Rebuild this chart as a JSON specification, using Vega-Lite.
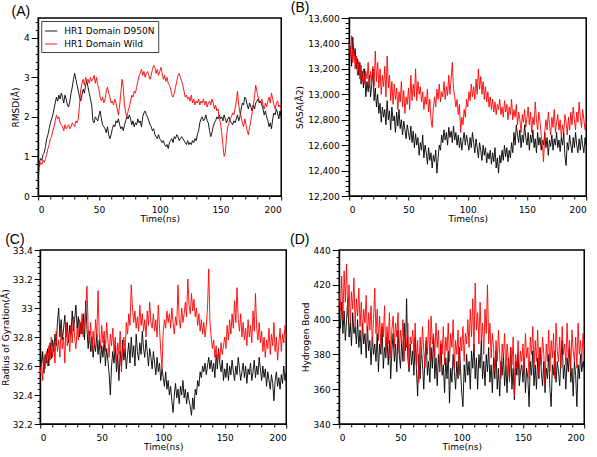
{
"$schema": "https://vega.github.io/schema/vega-lite/v6.json",
"background": "white",
"padding": {"left": 0, "top": 0, "right": 0, "bottom": 0},
"config": {
 "view": {"stroke": "#000", "strokeWidth": 1.5},
 "axis": {"labelFont": "DejaVu Sans", "labelFontSize": 9, "titleFont": "DejaVu Sans", "titleFontSize": 9, "titleFontWeight": "normal", "labelColor": "#000", "titleColor": "#000", "tickColor": "#000", "domainColor": "#000", "grid": false, "labelOverlap": false, "labelPadding": 2, "tickWidth": 1},
 "axisY": {"titlePadding": 3},
 "axisX": {"titlePadding": 0, "labelPadding": 5},
 "title": {"font": "Liberation Sans", "fontSize": 14, "fontWeight": "normal", "anchor": "start", "frame": "bounds", "offset": -1, "color": "#000"},
 "line": {"strokeWidth": 0.9, "clip": true}
},
"data": {"values": [
{"t":0,"am":0.45,"aw":0.7,"bm":13300,"bw":13400,"cm":32.75,"cw":32.55,"dm":402,"dw":415},
{"t":1,"am":0.85,"aw":0.75,"bm":13380,"bw":13300,"cm":32.6,"cw":32.62,"dm":395,"dw":405},
{"t":2,"am":0.95,"aw":0.85,"bm":13220,"bw":13460,"cm":32.7,"cw":32.5,"dm":410,"dw":425},
{"t":3,"am":0.9,"aw":0.8,"bm":13450,"bw":13250,"cm":32.55,"cw":32.66,"dm":392,"dw":400},
{"t":4,"am":1.05,"aw":0.9,"bm":13300,"bw":13350,"cm":32.68,"cw":32.58,"dm":405,"dw":428},
{"t":5,"am":1.1,"aw":0.85,"bm":13360,"bw":13200,"cm":32.62,"cw":32.7,"dm":388,"dw":410},
{"t":6,"am":1.25,"aw":0.95,"bm":13200,"bw":13300,"cm":32.72,"cw":32.6,"dm":400,"dw":432},
{"t":7,"am":1.45,"aw":1.05,"bm":13280,"bw":13150,"cm":32.6,"cw":32.74,"dm":412,"dw":402},
{"t":8,"am":1.55,"aw":1.2,"bm":13150,"bw":13260,"cm":32.76,"cw":32.64,"dm":390,"dw":420},
{"t":9,"am":1.7,"aw":1.3,"bm":13250,"bw":13120,"cm":32.65,"cw":32.8,"dm":398,"dw":398},
{"t":10,"am":1.85,"aw":1.45,"bm":13080,"bw":13230,"cm":32.78,"cw":32.66,"dm":385,"dw":416},
{"t":11,"am":1.95,"aw":1.5,"bm":13180,"bw":13100,"cm":32.7,"cw":32.76,"dm":404,"dw":406},
{"t":12,"am":2.05,"aw":1.65,"bm":13050,"bw":13200,"cm":32.82,"cw":32.62,"dm":392,"dw":424},
{"t":13,"am":2.2,"aw":1.75,"bm":13200,"bw":13080,"cm":32.74,"cw":32.84,"dm":396,"dw":396},
{"t":14,"am":2.35,"aw":1.9,"bm":12980,"bw":13180,"cm":32.9,"cw":32.7,"dm":386,"dw":412},
{"t":15,"am":2.5,"aw":2.05,"bm":13100,"bw":13120,"cm":33.0,"cw":32.78,"dm":400,"dw":402},
{"t":16,"am":2.4,"aw":1.95,"bm":13020,"bw":13250,"cm":32.8,"cw":32.66,"dm":384,"dw":418},
{"t":17,"am":2.55,"aw":2.0,"bm":13150,"bw":13050,"cm":32.92,"cw":32.86,"dm":394,"dw":396},
{"t":18,"am":2.45,"aw":1.85,"bm":12980,"bw":13180,"cm":32.78,"cw":32.72,"dm":380,"dw":410},
{"t":19,"am":2.6,"aw":1.8,"bm":13080,"bw":13100,"cm":32.86,"cw":32.8,"dm":398,"dw":392},
{"t":20,"am":2.5,"aw":1.75,"bm":13200,"bw":13220,"cm":32.95,"cw":32.62,"dm":386,"dw":406},
{"t":21,"am":2.35,"aw":1.65,"bm":12950,"bw":13060,"cm":32.8,"cw":32.9,"dm":392,"dw":398},
{"t":22,"am":2.55,"aw":1.8,"bm":13050,"bw":13340,"cm":32.9,"cw":32.74,"dm":378,"dw":414},
{"t":23,"am":2.45,"aw":1.7,"bm":12900,"bw":13100,"cm":32.76,"cw":32.82,"dm":396,"dw":388},
{"t":24,"am":2.3,"aw":1.75,"bm":13000,"bw":13250,"cm":32.88,"cw":32.7,"dm":382,"dw":404},
{"t":25,"am":2.25,"aw":1.8,"bm":12850,"bw":13050,"cm":32.82,"cw":32.88,"dm":388,"dw":394},
{"t":26,"am":2.4,"aw":1.7,"bm":12930,"bw":13200,"cm":32.98,"cw":32.76,"dm":374,"dw":408},
{"t":27,"am":2.6,"aw":1.75,"bm":12780,"bw":13000,"cm":32.84,"cw":32.94,"dm":390,"dw":386},
{"t":28,"am":2.75,"aw":1.85,"bm":12900,"bw":13150,"cm":32.92,"cw":32.8,"dm":380,"dw":400},
{"t":29,"am":2.95,"aw":1.8,"bm":12820,"bw":13060,"cm":33.02,"cw":32.72,"dm":386,"dw":418},
{"t":30,"am":3.1,"aw":1.75,"bm":12880,"bw":13220,"cm":32.86,"cw":32.86,"dm":376,"dw":392},
{"t":31,"am":2.95,"aw":1.9,"bm":12760,"bw":12980,"cm":32.94,"cw":32.78,"dm":392,"dw":406},
{"t":32,"am":2.8,"aw":1.85,"bm":12950,"bw":13300,"cm":32.8,"cw":32.92,"dm":370,"dw":388},
{"t":33,"am":2.65,"aw":1.95,"bm":12800,"bw":13050,"cm":32.9,"cw":32.82,"dm":386,"dw":402},
{"t":34,"am":2.5,"aw":2.3,"bm":12870,"bw":13150,"cm":32.82,"cw":32.96,"dm":380,"dw":384},
{"t":35,"am":2.4,"aw":2.7,"bm":12720,"bw":12950,"cm":32.96,"cw":32.8,"dm":396,"dw":398},
{"t":36,"am":2.55,"aw":2.85,"bm":12900,"bw":13100,"cm":32.78,"cw":32.9,"dm":372,"dw":390},
{"t":37,"am":2.7,"aw":2.95,"bm":12790,"bw":12920,"cm":33.05,"cw":33.0,"dm":384,"dw":408},
{"t":38,"am":2.6,"aw":2.8,"bm":12830,"bw":13080,"cm":32.85,"cw":33.15,"dm":378,"dw":380},
{"t":39,"am":2.8,"aw":3.0,"bm":12700,"bw":12960,"cm":32.72,"cw":32.86,"dm":390,"dw":396},
{"t":40,"am":2.9,"aw":2.9,"bm":12860,"bw":13050,"cm":32.84,"cw":32.76,"dm":374,"dw":386},
{"t":41,"am":2.75,"aw":2.95,"bm":12750,"bw":12880,"cm":32.7,"cw":32.9,"dm":388,"dw":404},
{"t":42,"am":2.6,"aw":2.85,"bm":12880,"bw":13020,"cm":32.8,"cw":32.7,"dm":366,"dw":378},
{"t":43,"am":2.45,"aw":3.0,"bm":12730,"bw":12940,"cm":32.66,"cw":32.84,"dm":382,"dw":394},
{"t":44,"am":2.3,"aw":2.9,"bm":12800,"bw":13100,"cm":32.76,"cw":32.74,"dm":392,"dw":402},
{"t":45,"am":1.9,"aw":2.95,"bm":12680,"bw":12900,"cm":32.7,"cw":32.92,"dm":376,"dw":384},
{"t":46,"am":1.85,"aw":3.05,"bm":12790,"bw":13030,"cm":32.82,"cw":32.8,"dm":386,"dw":398},
{"t":47,"am":2.0,"aw":2.85,"bm":12720,"bw":12850,"cm":32.68,"cw":33.12,"dm":370,"dw":390},
{"t":48,"am":1.95,"aw":3.0,"bm":12650,"bw":12980,"cm":32.78,"cw":32.82,"dm":394,"dw":404},
{"t":49,"am":1.9,"aw":2.8,"bm":12760,"bw":12920,"cm":32.62,"cw":32.72,"dm":380,"dw":380},
{"t":50,"am":2.05,"aw":2.7,"bm":12700,"bw":13050,"cm":32.74,"cw":32.88,"dm":372,"dw":394},
{"t":51,"am":2.15,"aw":2.5,"bm":12640,"bw":12880,"cm":32.66,"cw":32.76,"dm":388,"dw":386},
{"t":52,"am":1.95,"aw":2.4,"bm":12750,"bw":13150,"cm":32.78,"cw":32.84,"dm":376,"dw":400},
{"t":53,"am":1.8,"aw":2.5,"bm":12620,"bw":12950,"cm":32.6,"cw":32.7,"dm":398,"dw":376},
{"t":54,"am":1.75,"aw":2.35,"bm":12710,"bw":13080,"cm":32.72,"cw":32.9,"dm":382,"dw":392},
{"t":55,"am":1.7,"aw":2.45,"bm":12580,"bw":12980,"cm":32.64,"cw":32.78,"dm":412,"dw":384},
{"t":56,"am":1.6,"aw":2.65,"bm":12690,"bw":13200,"cm":32.55,"cw":32.66,"dm":378,"dw":398},
{"t":57,"am":1.75,"aw":2.75,"bm":12600,"bw":12950,"cm":32.4,"cw":32.82,"dm":370,"dw":372},
{"t":58,"am":1.55,"aw":2.6,"bm":12660,"bw":13100,"cm":32.6,"cw":32.74,"dm":386,"dw":390},
{"t":59,"am":1.45,"aw":2.5,"bm":12520,"bw":13000,"cm":32.7,"cw":32.86,"dm":374,"dw":386},
{"t":60,"am":1.55,"aw":2.35,"bm":12620,"bw":13060,"cm":32.62,"cw":32.7,"dm":382,"dw":394},
{"t":61,"am":1.7,"aw":2.4,"bm":12560,"bw":12940,"cm":32.74,"cw":32.8,"dm":368,"dw":380},
{"t":62,"am":1.8,"aw":2.3,"bm":12680,"bw":13020,"cm":32.56,"cw":32.62,"dm":390,"dw":398},
{"t":63,"am":1.75,"aw":2.45,"bm":12500,"bw":12880,"cm":32.68,"cw":32.76,"dm":372,"dw":374},
{"t":64,"am":1.9,"aw":2.35,"bm":12600,"bw":12980,"cm":32.5,"cw":32.68,"dm":356,"dw":388},
{"t":65,"am":1.85,"aw":2.2,"bm":12540,"bw":12920,"cm":32.7,"cw":32.84,"dm":380,"dw":364},
{"t":66,"am":1.95,"aw":2.05,"bm":12450,"bw":13040,"cm":32.6,"cw":32.56,"dm":366,"dw":390},
{"t":67,"am":1.8,"aw":2.3,"bm":12580,"bw":12860,"cm":32.78,"cw":32.72,"dm":384,"dw":378},
{"t":68,"am":1.7,"aw":2.6,"bm":12480,"bw":12960,"cm":32.64,"cw":32.8,"dm":374,"dw":396},
{"t":69,"am":1.75,"aw":2.95,"bm":12540,"bw":12800,"cm":32.72,"cw":32.7,"dm":360,"dw":382},
{"t":70,"am":1.65,"aw":2.75,"bm":12420,"bw":12740,"cm":32.58,"cw":32.9,"dm":378,"dw":372},
{"t":71,"am":1.8,"aw":2.3,"bm":12520,"bw":12900,"cm":32.68,"cw":32.82,"dm":388,"dw":390},
{"t":72,"am":1.9,"aw":2.1,"bm":12470,"bw":12980,"cm":32.76,"cw":32.96,"dm":368,"dw":380},
{"t":73,"am":2.0,"aw":2.0,"bm":12560,"bw":12900,"cm":32.62,"cw":32.88,"dm":376,"dw":400},
{"t":74,"am":1.95,"aw":2.15,"bm":12380,"bw":13040,"cm":32.8,"cw":33.16,"dm":364,"dw":376},
{"t":75,"am":2.05,"aw":2.25,"bm":12500,"bw":12960,"cm":32.66,"cw":33.0,"dm":384,"dw":402},
{"t":76,"am":1.95,"aw":2.4,"bm":12600,"bw":13080,"cm":32.74,"cw":32.9,"dm":372,"dw":386},
{"t":77,"am":1.8,"aw":2.55,"bm":12560,"bw":12940,"cm":32.6,"cw":32.98,"dm":390,"dw":392},
{"t":78,"am":1.9,"aw":2.5,"bm":12680,"bw":13020,"cm":32.82,"cw":32.86,"dm":366,"dw":378},
{"t":79,"am":1.75,"aw":2.65,"bm":12620,"bw":12980,"cm":32.7,"cw":32.94,"dm":378,"dw":398},
{"t":80,"am":1.85,"aw":2.6,"bm":12720,"bw":13100,"cm":32.64,"cw":32.84,"dm":362,"dw":384},
{"t":81,"am":1.8,"aw":2.75,"bm":12640,"bw":12960,"cm":32.76,"cw":33.02,"dm":380,"dw":394},
{"t":82,"am":1.95,"aw":2.9,"bm":12700,"bw":13060,"cm":32.68,"cw":32.88,"dm":370,"dw":370},
{"t":83,"am":1.85,"aw":3.05,"bm":12600,"bw":12990,"cm":32.84,"cw":32.96,"dm":386,"dw":388},
{"t":84,"am":1.9,"aw":3.1,"bm":12740,"bw":13150,"cm":32.72,"cw":32.84,"dm":368,"dw":380},
{"t":85,"am":1.75,"aw":3.2,"bm":12660,"bw":13000,"cm":32.66,"cw":32.92,"dm":374,"dw":396},
{"t":86,"am":2.0,"aw":3.05,"bm":12710,"bw":13120,"cm":32.78,"cw":32.8,"dm":358,"dw":374},
{"t":87,"am":2.1,"aw":3.15,"bm":12620,"bw":13250,"cm":32.7,"cw":32.98,"dm":378,"dw":390},
{"t":88,"am":2.15,"aw":3.0,"bm":12750,"bw":13050,"cm":32.6,"cw":32.88,"dm":366,"dw":382},
{"t":89,"am":2.05,"aw":3.1,"bm":12640,"bw":12980,"cm":32.72,"cw":33.04,"dm":382,"dw":398},
{"t":90,"am":2.0,"aw":3.15,"bm":12700,"bw":12900,"cm":32.66,"cw":32.9,"dm":352,"dw":376},
{"t":91,"am":1.9,"aw":3.05,"bm":12600,"bw":12960,"cm":32.58,"cw":32.86,"dm":372,"dw":392},
{"t":92,"am":1.8,"aw":2.95,"bm":12680,"bw":12840,"cm":32.7,"cw":32.96,"dm":364,"dw":384},
{"t":93,"am":1.75,"aw":3.05,"bm":12580,"bw":12920,"cm":32.62,"cw":32.84,"dm":380,"dw":400},
{"t":94,"am":1.65,"aw":3.2,"bm":12660,"bw":12700,"cm":32.54,"cw":32.92,"dm":370,"dw":372},
{"t":95,"am":1.7,"aw":3.3,"bm":12560,"bw":12820,"cm":32.66,"cw":32.8,"dm":360,"dw":388},
{"t":96,"am":1.55,"aw":3.25,"bm":12640,"bw":12760,"cm":32.56,"cw":33.02,"dm":376,"dw":380},
{"t":97,"am":1.5,"aw":3.1,"bm":12700,"bw":12880,"cm":32.62,"cw":32.86,"dm":366,"dw":394},
{"t":98,"am":1.45,"aw":3.2,"bm":12600,"bw":12820,"cm":32.5,"cw":32.7,"dm":384,"dw":368},
{"t":99,"am":1.55,"aw":3.05,"bm":12680,"bw":12960,"cm":32.58,"cw":32.58,"dm":372,"dw":390},
{"t":100,"am":1.45,"aw":3.15,"bm":12620,"bw":12900,"cm":32.52,"cw":32.84,"dm":358,"dw":382},
{"t":101,"am":1.4,"aw":3.25,"bm":12560,"bw":13020,"cm":32.46,"cw":32.92,"dm":350,"dw":396},
{"t":102,"am":1.35,"aw":3.1,"bm":12660,"bw":12950,"cm":32.56,"cw":32.86,"dm":374,"dw":376},
{"t":103,"am":1.4,"aw":2.95,"bm":12580,"bw":13080,"cm":32.44,"cw":32.98,"dm":364,"dw":392},
{"t":104,"am":1.3,"aw":3.05,"bm":12700,"bw":12980,"cm":32.5,"cw":32.9,"dm":380,"dw":386},
{"t":105,"am":1.25,"aw":2.9,"bm":12620,"bw":13060,"cm":32.4,"cw":32.96,"dm":368,"dw":400},
{"t":106,"am":1.3,"aw":3.0,"bm":12540,"bw":12960,"cm":32.46,"cw":32.86,"dm":376,"dw":384},
{"t":107,"am":1.2,"aw":2.85,"bm":12650,"bw":13120,"cm":32.36,"cw":33.0,"dm":360,"dw":406},
{"t":108,"am":1.35,"aw":2.8,"bm":12580,"bw":13000,"cm":32.28,"cw":32.9,"dm":382,"dw":390},
{"t":109,"am":1.4,"aw":2.7,"bm":12500,"bw":13200,"cm":32.4,"cw":32.82,"dm":372,"dw":412},
{"t":110,"am":1.45,"aw":2.55,"bm":12620,"bw":13040,"cm":32.48,"cw":32.94,"dm":386,"dw":382},
{"t":111,"am":1.35,"aw":2.5,"bm":12560,"bw":13140,"cm":32.38,"cw":32.88,"dm":366,"dw":421},
{"t":112,"am":1.5,"aw":2.6,"bm":12480,"bw":13000,"cm":32.44,"cw":33.16,"dm":378,"dw":394},
{"t":113,"am":1.45,"aw":2.75,"bm":12600,"bw":13100,"cm":32.34,"cw":32.92,"dm":360,"dw":404},
{"t":114,"am":1.55,"aw":2.9,"bm":12520,"bw":12960,"cm":32.46,"cw":32.86,"dm":380,"dw":386},
{"t":115,"am":1.5,"aw":3.05,"bm":12580,"bw":13060,"cm":32.4,"cw":33.0,"dm":372,"dw":410},
{"t":116,"am":1.4,"aw":3.1,"bm":12460,"bw":12940,"cm":32.5,"cw":32.9,"dm":388,"dw":388},
{"t":117,"am":1.45,"aw":3.0,"bm":12540,"bw":13020,"cm":32.38,"cw":32.96,"dm":366,"dw":398},
{"t":118,"am":1.5,"aw":2.9,"bm":12490,"bw":12900,"cm":32.44,"cw":33.04,"dm":376,"dw":380},
{"t":119,"am":1.45,"aw":2.8,"bm":12560,"bw":12980,"cm":32.34,"cw":32.94,"dm":362,"dw":406},
{"t":120,"am":1.4,"aw":2.65,"bm":12450,"bw":12880,"cm":32.42,"cw":33.2,"dm":380,"dw":392},
{"t":121,"am":1.35,"aw":2.5,"bm":12540,"bw":12960,"cm":32.36,"cw":33.02,"dm":370,"dw":420},
{"t":122,"am":1.3,"aw":2.55,"bm":12470,"bw":12860,"cm":32.32,"cw":32.96,"dm":384,"dw":386},
{"t":123,"am":1.4,"aw":2.45,"bm":12580,"bw":12940,"cm":32.26,"cw":33.1,"dm":364,"dw":398},
{"t":124,"am":1.3,"aw":2.5,"bm":12420,"bw":12840,"cm":32.38,"cw":32.98,"dm":374,"dw":378},
{"t":125,"am":1.35,"aw":2.4,"bm":12500,"bw":12920,"cm":32.3,"cw":33.06,"dm":358,"dw":392},
{"t":126,"am":1.3,"aw":2.55,"bm":12380,"bw":12880,"cm":32.44,"cw":32.94,"dm":378,"dw":384},
{"t":127,"am":1.4,"aw":2.35,"bm":12520,"bw":12960,"cm":32.4,"cw":33.0,"dm":366,"dw":370},
{"t":128,"am":1.35,"aw":2.45,"bm":12460,"bw":12840,"cm":32.5,"cw":32.88,"dm":382,"dw":388},
{"t":129,"am":1.45,"aw":2.3,"bm":12560,"bw":12900,"cm":32.46,"cw":32.96,"dm":360,"dw":376},
{"t":130,"am":1.4,"aw":2.4,"bm":12480,"bw":12820,"cm":32.56,"cw":32.84,"dm":372,"dw":394},
{"t":131,"am":1.55,"aw":2.35,"bm":12600,"bw":12950,"cm":32.52,"cw":32.92,"dm":356,"dw":380},
{"t":132,"am":1.65,"aw":2.45,"bm":12510,"bw":12860,"cm":32.6,"cw":32.82,"dm":376,"dw":366},
{"t":133,"am":1.85,"aw":2.3,"bm":12580,"bw":12920,"cm":32.56,"cw":32.9,"dm":368,"dw":386},
{"t":134,"am":1.95,"aw":2.4,"bm":12470,"bw":12800,"cm":32.62,"cw":32.8,"dm":380,"dw":378},
{"t":135,"am":2.0,"aw":2.35,"bm":12560,"bw":12900,"cm":32.54,"cw":32.88,"dm":362,"dw":392},
{"t":136,"am":1.9,"aw":2.45,"bm":12500,"bw":12840,"cm":32.6,"cw":33.0,"dm":374,"dw":370},
{"t":137,"am":1.95,"aw":2.3,"bm":12620,"bw":12960,"cm":32.66,"cw":33.27,"dm":358,"dw":386},
{"t":138,"am":2.05,"aw":2.4,"bm":12540,"bw":12800,"cm":32.58,"cw":32.9,"dm":378,"dw":378},
{"t":139,"am":1.9,"aw":2.25,"bm":12700,"bw":12880,"cm":32.64,"cw":32.8,"dm":366,"dw":364},
{"t":140,"am":1.85,"aw":2.35,"bm":12600,"bw":12820,"cm":32.56,"cw":32.72,"dm":384,"dw":384},
{"t":141,"am":1.65,"aw":2.4,"bm":12760,"bw":12920,"cm":32.62,"cw":32.78,"dm":360,"dw":374},
{"t":142,"am":1.5,"aw":2.3,"bm":12680,"bw":12760,"cm":32.52,"cw":32.66,"dm":372,"dw":390},
{"t":143,"am":1.6,"aw":2.45,"bm":12620,"bw":12860,"cm":32.68,"cw":32.74,"dm":354,"dw":356},
{"t":144,"am":1.75,"aw":2.35,"bm":12720,"bw":12800,"cm":32.58,"cw":32.62,"dm":376,"dw":380},
{"t":145,"am":1.85,"aw":2.2,"bm":12580,"bw":12700,"cm":32.72,"cw":32.7,"dm":368,"dw":372},
{"t":146,"am":1.9,"aw":2.3,"bm":12680,"bw":12840,"cm":32.62,"cw":32.64,"dm":380,"dw":388},
{"t":147,"am":2.0,"aw":2.15,"bm":12620,"bw":12780,"cm":32.56,"cw":32.76,"dm":362,"dw":368},
{"t":148,"am":1.95,"aw":2.2,"bm":12760,"bw":12880,"cm":32.64,"cw":32.68,"dm":370,"dw":382},
{"t":149,"am":2.05,"aw":1.95,"bm":12660,"bw":12740,"cm":32.5,"cw":32.74,"dm":374,"dw":376},
{"t":150,"am":1.95,"aw":1.85,"bm":12600,"bw":12820,"cm":32.58,"cw":32.8,"dm":364,"dw":386},
{"t":151,"am":2.0,"aw":1.6,"bm":12700,"bw":12900,"cm":32.52,"cw":32.72,"dm":378,"dw":370},
{"t":152,"am":1.9,"aw":1.3,"bm":12560,"bw":12760,"cm":32.62,"cw":32.88,"dm":358,"dw":392},
{"t":153,"am":2.05,"aw":1.0,"bm":12680,"bw":12860,"cm":32.5,"cw":32.78,"dm":372,"dw":378},
{"t":154,"am":1.95,"aw":1.1,"bm":12620,"bw":12700,"cm":32.6,"cw":32.92,"dm":366,"dw":384},
{"t":155,"am":1.85,"aw":1.5,"bm":12720,"bw":12820,"cm":32.54,"cw":32.82,"dm":350,"dw":366},
{"t":156,"am":1.95,"aw":1.75,"bm":12580,"bw":12760,"cm":32.64,"cw":32.96,"dm":376,"dw":390},
{"t":157,"am":2.0,"aw":1.85,"bm":12650,"bw":12940,"cm":32.56,"cw":32.86,"dm":368,"dw":380},
{"t":158,"am":1.9,"aw":1.95,"bm":12540,"bw":12800,"cm":32.5,"cw":33.05,"dm":382,"dw":396},
{"t":159,"am":1.85,"aw":2.0,"bm":12700,"bw":12720,"cm":32.6,"cw":32.9,"dm":362,"dw":372},
{"t":160,"am":1.8,"aw":2.1,"bm":12600,"bw":12860,"cm":32.54,"cw":33.14,"dm":374,"dw":388},
{"t":161,"am":1.9,"aw":2.05,"bm":12660,"bw":12780,"cm":32.66,"cw":32.92,"dm":360,"dw":376},
{"t":162,"am":1.85,"aw":2.2,"bm":12560,"bw":12680,"cm":32.58,"cw":32.84,"dm":378,"dw":394},
{"t":163,"am":1.95,"aw":2.4,"bm":12640,"bw":12600,"cm":32.5,"cw":32.96,"dm":366,"dw":368},
{"t":164,"am":2.05,"aw":2.65,"bm":12600,"bw":12470,"cm":32.56,"cw":32.8,"dm":384,"dw":384},
{"t":165,"am":1.9,"aw":2.3,"bm":12700,"bw":12700,"cm":32.62,"cw":32.9,"dm":370,"dw":374},
{"t":166,"am":2.0,"aw":2.1,"bm":12580,"bw":12800,"cm":32.52,"cw":32.78,"dm":362,"dw":390},
{"t":167,"am":2.2,"aw":2.0,"bm":12660,"bw":12720,"cm":32.6,"cw":32.86,"dm":376,"dw":380},
{"t":168,"am":2.35,"aw":1.85,"bm":12520,"bw":12860,"cm":32.48,"cw":32.74,"dm":358,"dw":362},
{"t":169,"am":2.3,"aw":1.75,"bm":12640,"bw":12760,"cm":32.58,"cw":32.92,"dm":372,"dw":386},
{"t":170,"am":2.5,"aw":1.95,"bm":12590,"bw":12680,"cm":32.54,"cw":32.8,"dm":366,"dw":376},
{"t":171,"am":2.45,"aw":1.8,"bm":12680,"bw":12820,"cm":32.62,"cw":32.88,"dm":380,"dw":394},
{"t":172,"am":2.3,"aw":1.65,"bm":12560,"bw":12740,"cm":32.5,"cw":32.76,"dm":360,"dw":370},
{"t":173,"am":2.2,"aw":1.55,"bm":12650,"bw":12880,"cm":32.56,"cw":32.98,"dm":350,"dw":388},
{"t":174,"am":2.35,"aw":1.75,"bm":12600,"bw":12700,"cm":32.64,"cw":32.84,"dm":374,"dw":378},
{"t":175,"am":2.25,"aw":1.9,"bm":12700,"bw":12780,"cm":32.52,"cw":33.1,"dm":368,"dw":392},
{"t":176,"am":2.15,"aw":2.1,"bm":12580,"bw":12840,"cm":32.6,"cw":32.86,"dm":382,"dw":366},
{"t":177,"am":2.3,"aw":2.3,"bm":12640,"bw":12720,"cm":32.54,"cw":32.78,"dm":364,"dw":398},
{"t":178,"am":2.2,"aw":2.5,"bm":12550,"bw":12800,"cm":32.66,"cw":32.9,"dm":376,"dw":382},
{"t":179,"am":2.35,"aw":2.8,"bm":12660,"bw":12660,"cm":32.58,"cw":32.76,"dm":370,"dw":376},
{"t":180,"am":2.4,"aw":2.65,"bm":12600,"bw":12760,"cm":32.5,"cw":32.84,"dm":362,"dw":390},
{"t":181,"am":2.45,"aw":2.5,"bm":12700,"bw":12700,"cm":32.6,"cw":32.7,"dm":378,"dw":372},
{"t":182,"am":2.35,"aw":2.4,"bm":12520,"bw":12840,"cm":32.52,"cw":32.8,"dm":388,"dw":396},
{"t":183,"am":2.4,"aw":2.35,"bm":12440,"bw":12780,"cm":32.58,"cw":32.66,"dm":366,"dw":380},
{"t":184,"am":2.3,"aw":2.45,"bm":12620,"bw":12680,"cm":32.46,"cw":32.78,"dm":374,"dw":386},
{"t":185,"am":2.2,"aw":2.3,"bm":12560,"bw":12820,"cm":32.56,"cw":32.72,"dm":360,"dw":374},
{"t":186,"am":2.05,"aw":2.2,"bm":12680,"bw":12720,"cm":32.5,"cw":32.86,"dm":378,"dw":398},
{"t":187,"am":2.15,"aw":2.35,"bm":12600,"bw":12860,"cm":32.44,"cw":32.68,"dm":370,"dw":378},
{"t":188,"am":2.0,"aw":2.25,"bm":12540,"bw":12760,"cm":32.54,"cw":32.82,"dm":384,"dw":388},
{"t":189,"am":1.9,"aw":2.4,"bm":12660,"bw":12900,"cm":32.48,"cw":32.74,"dm":364,"dw":370},
{"t":190,"am":1.75,"aw":2.5,"bm":12580,"bw":12800,"cm":32.36,"cw":32.9,"dm":372,"dw":394},
{"t":191,"am":1.85,"aw":2.35,"bm":12700,"bw":12720,"cm":32.5,"cw":32.7,"dm":356,"dw":382},
{"t":192,"am":1.7,"aw":2.6,"bm":12600,"bw":12860,"cm":32.56,"cw":32.8,"dm":376,"dw":376},
{"t":193,"am":1.95,"aw":2.45,"bm":12540,"bw":12780,"cm":32.46,"cw":32.64,"dm":368,"dw":390},
{"t":194,"am":2.1,"aw":2.3,"bm":12650,"bw":12940,"cm":32.52,"cw":32.76,"dm":350,"dw":372},
{"t":195,"am":2.05,"aw":2.2,"bm":12560,"bw":12820,"cm":32.44,"cw":32.86,"dm":374,"dw":398},
{"t":196,"am":2.2,"aw":2.35,"bm":12680,"bw":12740,"cm":32.54,"cw":32.7,"dm":366,"dw":380},
{"t":197,"am":2.1,"aw":2.4,"bm":12600,"bw":12880,"cm":32.48,"cw":32.82,"dm":380,"dw":388},
{"t":198,"am":1.95,"aw":2.25,"bm":12540,"bw":12800,"cm":32.6,"cw":32.76,"dm":370,"dw":376},
{"t":199,"am":2.15,"aw":2.3,"bm":12660,"bw":12720,"cm":32.5,"cw":32.88,"dm":376,"dw":392},
{"t":200,"am":2.0,"aw":2.2,"bm":12600,"bw":12780,"cm":32.56,"cw":32.8,"dm":372,"dw":384}
]},
"resolve": {"scale": {"color": "independent"}, "legend": {"color": "independent"}},
"center": true,
"spacing": 8,
"vconcat": [
 {"resolve": {"scale": {"color": "independent"}, "legend": {"color": "independent"}},
  "spacing": 5,
  "hconcat": [
  {"width": 243, "height": 178, "title": {"text": "(A)", "dx": 0},
   "transform": [{"fold": ["am", "aw"], "as": ["s", "v"]}],
   "mark": {"type": "line"},
   "encoding": {
    "x": {"field": "t", "type": "quantitative", "scale": {"domain": [0, 200], "nice": false}, "axis": {"title": "Time(ns)", "format": "d", "values": [0,10,20,30,40,50,60,70,80,90,100,110,120,130,140,150,160,170,180,190,200], "labelExpr": "datum.value % 50 === 0 ? datum.label : ''", "tickSize": {"condition": {"test": "datum.value % 50 === 0", "value": 4}, "value": 3}}},
    "y": {"field": "v", "type": "quantitative", "scale": {"domain": [0, 4.5], "nice": false, "zero": false}, "axis": {"title": "RMSD(Å)", "format": "~g", "values": [0,0.2,0.4,0.6,0.8,1,1.2,1.4,1.6,1.8,2,2.2,2.4,2.6,2.8,3,3.2,3.4,3.6,3.8,4,4.2,4.4], "labelExpr": "abs(datum.value - round(datum.value)) < 0.001 ? datum.label : ''", "tickSize": {"condition": {"test": "abs(datum.value - round(datum.value)) < 0.001", "value": 7}, "value": 3}}},
    "color": {"field": "s", "type": "nominal", "scale": {"domain": ["am", "aw"], "range": ["#000000", "#ff0000"]}, "legend": {"title": null, "orient": "top-left", "offset": 3, "labelExpr": "datum.value === 'am' ? 'HR1 Domain D950N' : 'HR1 Domain Wild'", "strokeColor": "#444", "fillColor": "#ffffff", "padding": 3, "rowPadding": 1, "symbolType": "stroke", "symbolSize": 150, "symbolStrokeWidth": 1.3, "labelFont": "DejaVu Sans", "labelFontSize": 9, "labelColor": "#000", "labelOffset": 6}}
   }},
  {"width": 237, "height": 178, "title": {"text": "(B)", "dx": -5},
   "transform": [{"fold": ["bm", "bw"], "as": ["s", "v"]}],
   "mark": {"type": "line"},
   "encoding": {
    "x": {"field": "t", "type": "quantitative", "scale": {"domain": [0, 200], "nice": false}, "axis": {"title": "Time(ns)", "format": "d", "values": [0,10,20,30,40,50,60,70,80,90,100,110,120,130,140,150,160,170,180,190,200], "labelExpr": "datum.value % 50 === 0 ? datum.label : ''", "tickSize": {"condition": {"test": "datum.value % 50 === 0", "value": 4}, "value": 3}}},
    "y": {"field": "v", "type": "quantitative", "scale": {"domain": [12200, 13600], "nice": false, "zero": false}, "axis": {"title": "SASA(Å2)", "format": ",d", "values": [12200,12240,12280,12320,12360,12400,12440,12480,12520,12560,12600,12640,12680,12720,12760,12800,12840,12880,12920,12960,13000,13040,13080,13120,13160,13200,13240,13280,13320,13360,13400,13440,13480,13520,13560,13600], "labelExpr": "datum.value % 200 === 0 ? datum.label : ''", "tickSize": {"condition": {"test": "datum.value % 200 === 0", "value": 8}, "value": 4}}},
    "color": {"field": "s", "type": "nominal", "scale": {"domain": ["bm", "bw"], "range": ["#000000", "#ff0000"]}, "legend": null}
   }}
 ]},
 {"resolve": {"scale": {"color": "independent"}, "legend": {"color": "independent"}},
  "spacing": 0,
  "hconcat": [
  {"width": 246, "height": 174, "title": {"text": "(C)", "dx": 4},
   "transform": [{"fold": ["cm", "cw"], "as": ["s", "v"]}],
   "mark": {"type": "line"},
   "encoding": {
    "x": {"field": "t", "type": "quantitative", "scale": {"domain": [0, 200], "nice": false}, "axis": {"title": "Time(ns)", "format": "d", "values": [0,10,20,30,40,50,60,70,80,90,100,110,120,130,140,150,160,170,180,190,200], "labelExpr": "datum.value % 50 === 0 ? datum.label : ''", "tickSize": {"condition": {"test": "datum.value % 50 === 0", "value": 4}, "value": 3}}},
    "y": {"field": "v", "type": "quantitative", "scale": {"domain": [32.2, 33.4], "nice": false, "zero": false}, "axis": {"title": "Radius of Gyration(Å)", "titlePadding": 2, "format": "~g", "values": [32.2,32.24,32.28,32.32,32.36,32.4,32.44,32.48,32.52,32.56,32.6,32.64,32.68,32.72,32.76,32.8,32.84,32.88,32.92,32.96,33,33.04,33.08,33.12,33.16,33.2,33.24,33.28,33.32,33.36,33.4], "labelExpr": "abs(datum.value * 5 - round(datum.value * 5)) < 0.001 ? datum.label : ''", "tickSize": {"condition": {"test": "abs(datum.value * 5 - round(datum.value * 5)) < 0.001", "value": 6}, "value": 3}}},
    "color": {"field": "s", "type": "nominal", "scale": {"domain": ["cm", "cw"], "range": ["#000000", "#ff0000"]}, "legend": null}
   }},
  {"width": 245, "height": 174, "title": {"text": "(D)", "dx": -11},
   "transform": [{"fold": ["dm", "dw"], "as": ["s", "v"]}],
   "mark": {"type": "line"},
   "encoding": {
    "x": {"field": "t", "type": "quantitative", "scale": {"domain": [0, 200], "nice": false}, "axis": {"title": "Time(ns)", "format": "d", "labelFlush": true, "values": [0,10,20,30,40,50,60,70,80,90,100,110,120,130,140,150,160,170,180,190,200], "labelExpr": "datum.value % 50 === 0 ? datum.label : ''", "tickSize": {"condition": {"test": "datum.value % 50 === 0", "value": 4}, "value": 3}}},
    "y": {"field": "v", "type": "quantitative", "scale": {"domain": [340, 440], "nice": false, "zero": false}, "axis": {"title": "Hydrogen Bond", "format": "d", "values": [340,344,348,352,356,360,364,368,372,376,380,384,388,392,396,400,404,408,412,416,420,424,428,432,436,440], "labelExpr": "datum.value % 20 === 0 ? datum.label : ''", "tickSize": {"condition": {"test": "datum.value % 20 === 0", "value": 7}, "value": 3}}},
    "color": {"field": "s", "type": "nominal", "scale": {"domain": ["dm", "dw"], "range": ["#000000", "#ff0000"]}, "legend": null}
   }}
 ]}
]
}
